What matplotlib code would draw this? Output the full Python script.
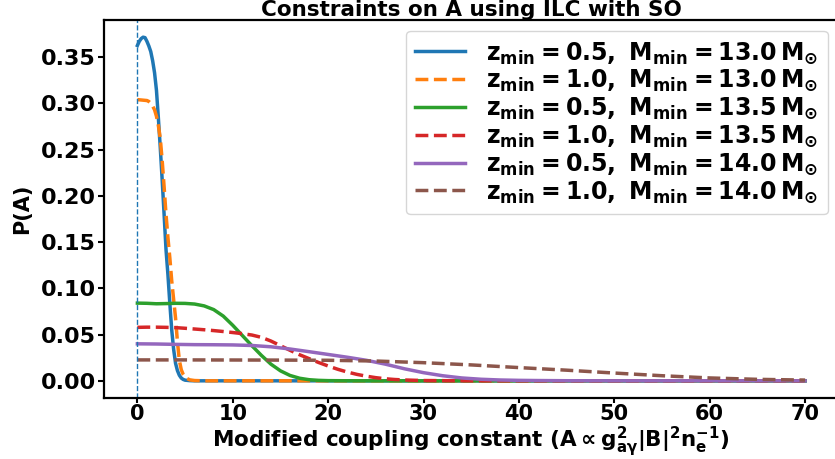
import matplotlib
matplotlib.use("Agg")
import matplotlib.pyplot as plt

plt.rcParams['font.family'] = ['DejaVu Sans']
plt.rcParams['font.weight'] = 'bold'
plt.rcParams['axes.labelweight'] = 'bold'
plt.rcParams['axes.titleweight'] = 'bold'
plt.rcParams['mathtext.fontset'] = 'dejavusans'
plt.rcParams['mathtext.default'] = 'bf'

title = "Constraints on A using ILC with SO"
xlabel = r"Modified coupling constant ($A \propto g_{a\gamma}^{2}|B|^{2}n_{e}^{-1}$)"
ylabel = "P(A)"
labels = [
    r"$z_{min} = 0.5,\ M_{min} = 13.0\,M_{\odot}$",
    r"$z_{min} = 1.0,\ M_{min} = 13.0\,M_{\odot}$",
    r"$z_{min} = 0.5,\ M_{min} = 13.5\,M_{\odot}$",
    r"$z_{min} = 1.0,\ M_{min} = 13.5\,M_{\odot}$",
    r"$z_{min} = 0.5,\ M_{min} = 14.0\,M_{\odot}$",
    r"$z_{min} = 1.0,\ M_{min} = 14.0\,M_{\odot}$",
]

x_blue = [0, 0.2, 0.4, 0.6, 0.8, 1.0, 1.2, 1.4, 1.6, 1.8, 2.0, 2.2, 2.4, 2.6, 2.8,
          3.0, 3.2, 3.4, 3.6, 3.8, 4.0, 4.2, 4.4, 4.6, 4.8, 5.0, 5.5, 6, 70]
y_blue = [0.3625, 0.367, 0.370, 0.3715, 0.371, 0.367, 0.362, 0.356, 0.346, 0.333, 0.314,
          0.284, 0.252, 0.217, 0.180, 0.142, 0.115, 0.084, 0.055, 0.034, 0.019, 0.011,
          0.006, 0.003, 0.0015, 0.0007, 0.0002, 0.0, 0.0]

x_orange = [0, 0.5, 1.0, 1.2, 1.4, 1.6, 1.8, 2.0, 2.2, 2.4, 2.6, 2.8, 3.0, 3.2, 3.4,
            3.6, 3.8, 4.0, 4.2, 4.4, 4.6, 4.8, 5.0, 5.2, 5.5, 6, 7, 70]
y_orange = [0.304, 0.3035, 0.303, 0.302, 0.300, 0.297, 0.293, 0.286, 0.276, 0.262, 0.238,
            0.210, 0.180, 0.155, 0.133, 0.108, 0.088, 0.068, 0.042, 0.022, 0.012, 0.007,
            0.004, 0.0025, 0.001, 0.0003, 0.0, 0.0]

x_green = [0, 1, 2, 3, 4, 5, 6, 7, 8, 9, 10, 11, 12, 13, 14, 15, 16, 17, 18, 19, 20, 22, 25, 70]
y_green = [0.0840, 0.0838, 0.0833, 0.0835, 0.0838, 0.0837, 0.0830, 0.0810, 0.0770, 0.0700,
           0.0600, 0.0490, 0.0380, 0.0275, 0.0180, 0.0108, 0.0058, 0.0028, 0.0012, 0.0005,
           0.0002, 0.00005, 0.0, 0.0]

x_red = [0, 1, 2, 3, 4, 5, 6, 7, 8, 9, 10, 11, 12, 13, 14, 15, 16, 17, 18, 19, 20, 21,
         22, 23, 24, 25, 26, 27, 28, 30, 33, 36, 70]
y_red = [0.0578, 0.0580, 0.0580, 0.0578, 0.0575, 0.0568, 0.0560, 0.0552, 0.0543, 0.0533,
         0.0522, 0.0510, 0.0495, 0.0470, 0.0430, 0.0380, 0.0330, 0.0282, 0.0240, 0.0198,
         0.0160, 0.0125, 0.0095, 0.0070, 0.0050, 0.0034, 0.0022, 0.0014, 0.0009, 0.0003,
         0.0001, 0.0, 0.0]

x_purple = [0, 2, 4, 6, 8, 10, 12, 14, 16, 18, 20, 22, 24, 26, 28, 30, 32, 34, 36, 38,
            40, 42, 45, 50, 70]
y_purple = [0.0400, 0.0398, 0.0394, 0.0391, 0.0390, 0.0388, 0.0382, 0.0368, 0.0344, 0.0315,
            0.0285, 0.0255, 0.0222, 0.0180, 0.0130, 0.0088, 0.0055, 0.0031, 0.0017, 0.0009,
            0.0005, 0.0003, 0.0001, 0.0, 0.0]

x_brown = [0, 5, 10, 15, 20, 25, 30, 35, 40, 45, 50, 55, 60, 65, 70]
y_brown = [0.0226, 0.0226, 0.0225, 0.0224, 0.0222, 0.0214, 0.0196, 0.0172, 0.0143, 0.0115,
           0.0084, 0.0055, 0.0031, 0.0016, 0.0008]

xs = [x_blue, x_orange, x_green, x_red, x_purple, x_brown]
ys = [y_blue, y_orange, y_green, y_red, y_purple, y_brown]
colors = ['#1f77b4', '#ff7f0e', '#2ca02c', '#d62728', '#9467bd', '#8c564b']
styles = ['-', '--', '-', '--', '-', '--']

fig = plt.figure(figsize=(8.35, 4.59), dpi=100)
ax = fig.add_axes([104 / 835, 61 / 459, 734.5 / 835, 378 / 459])

for x, y, c, s, lab in zip(xs, ys, colors, styles, labels):
    ax.plot(x, y, color=c, linestyle=s, linewidth=2.5, label=lab)

ax.axvline(0, color='#1f77b4', linestyle='--', linewidth=1.0)

ax.set_xticks([0, 10, 20, 30, 40, 50, 60, 70])
ax.set_yticks([0.0, 0.05, 0.10, 0.15, 0.20, 0.25, 0.30, 0.35])
ax.set_yticklabels(["0.00", "0.05", "0.10", "0.15", "0.20", "0.25", "0.30", "0.35"])
ax.tick_params(axis='y', labelsize=16, width=1.5, length=4, pad=2)
ax.tick_params(axis='x', labelsize=15, width=1.5, length=3.5, pad=1)
for sp in ax.spines.values():
    sp.set_linewidth(1.6)

ax.set_xlabel(xlabel, fontsize=15.5, labelpad=0)
ax.set_ylabel(ylabel, fontsize=15, labelpad=6)
ax.set_title(title, fontsize=15.5, pad=1)

ax.legend(loc='upper right', fontsize=17, labelspacing=0.1, handlelength=2.1,
          handletextpad=0.9, borderaxespad=0.45)

fig.savefig("out.png", dpi=100)
